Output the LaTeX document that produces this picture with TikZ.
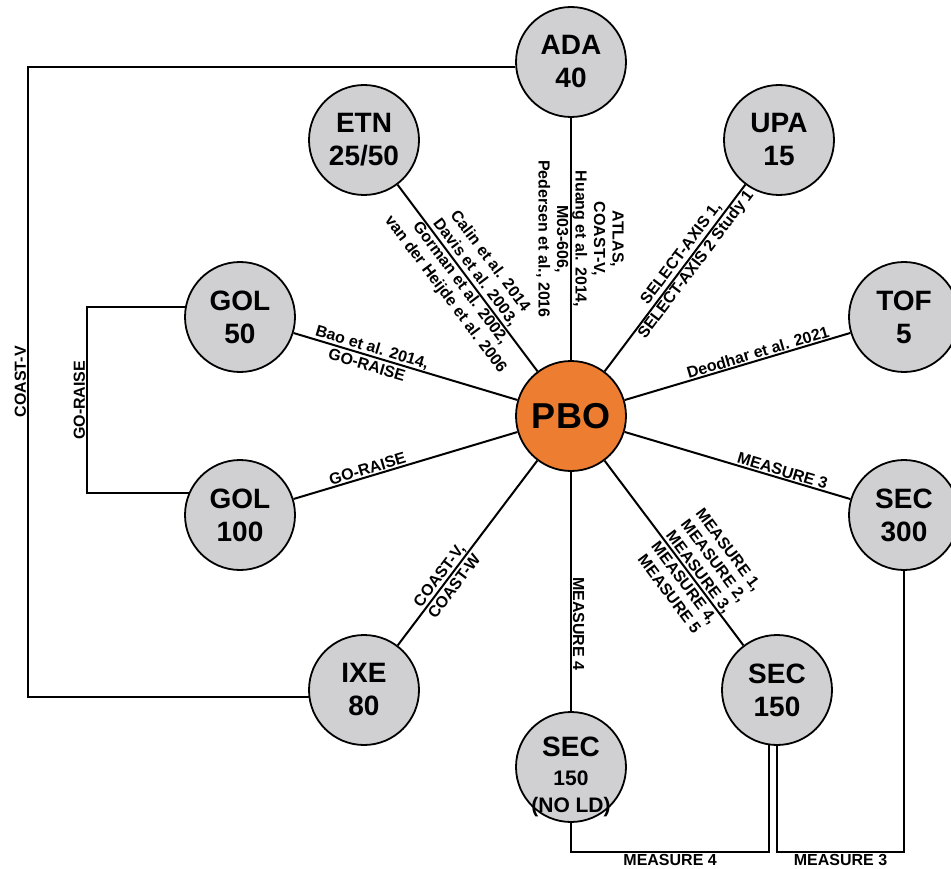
\documentclass[tikz,border=0pt]{standalone}
\usepackage{fontspec}
\setmainfont{Liberation Sans}
\definecolor{druggray}{HTML}{D0CFD1}
\definecolor{pboorange}{HTML}{ED7D31}

\tikzset{
  drug/.style={circle, draw, fill=druggray, line width=1.8pt, minimum size=110pt,
    inner sep=0pt, align=center, font=\bfseries\fontsize{28}{33}\selectfont},
  hub/.style={drug, fill=pboorange, font=\bfseries\fontsize{36}{40}\selectfont},
  link/.style={line width=2pt},
  lbl/.style={font=\bfseries\fontsize{16}{18.5}\selectfont, align=center, inner sep=1pt},
}

\begin{document}
\begin{tikzpicture}[x=1pt, y=-1pt]
  \useasboundingbox (0,0) rectangle (951,869);
  % drugs around PBO
  \node[hub]  (PBO)  at (571,416) {PBO};
  \node[drug] (ADA)  at (571,62)  {ADA\\40};
  \node[drug] (ETN)  at (364,140) {ETN\\25/50};
  \node[drug] (UPA)  at (779,140) {UPA\\15};
  \node[drug] (GOLa) at (240,317) {GOL\\50};
  \node[drug] (TOF)  at (904,317) {TOF\\5};
  \node[drug] (GOLb) at (240,515) {GOL\\100};
  \node[drug] (SECc) at (904,515) {SEC\\300};
  \node[drug] (IXE)  at (364,690) {IXE\\80};
  \node[drug] (SECb) at (777,690) {SEC\\150};
  \node[drug] (SECa) at (571,767) {\raisebox{11pt}[0pt][0pt]{\begin{tabular}[t]{@{}c@{}}SEC\\[-4pt]
    \fontsize{21}{27}\selectfont 150\\[-6pt]\fontsize{21}{27}\selectfont (NO LD)\end{tabular}}};
  \coordinate (cvx) at (28,0);
  \coordinate (grx) at (87,0);
  \coordinate (bot) at (0,852);

  % spokes
  \draw[link] (ETN) -- node[lbl, sloped, pos=.5] {Calin et al. 2014\\Davis et al. 2003,\\Gorman et al. 2002,\\van der Heijde et al. 2006} (PBO);
  \draw[link] (ADA) -- node[lbl, sloped, pos=.5, yshift=9pt] {ATLAS,\\COAST-V,\\Huang et al. 2014,\\M03-606,\\Pedersen et al., 2016} (PBO);
  \draw[link] (PBO) -- node[lbl, sloped, pos=.6] {SELECT-AXIS 1,\\SELECT-AXIS 2 Study 1} (UPA);
  \draw[link] (PBO) -- node[lbl, sloped, above, pos=.6] {Deodhar et al. 2021} (TOF);
  \draw[link] (GOLa) -- node[lbl, sloped, pos=.34] {Bao et al. 2014,\\GO-RAISE} (PBO);
  \draw[link] (GOLb) -- node[lbl, sloped, above, pos=.34] {GO-RAISE} (PBO);
  \draw[link] (PBO) -- node[lbl, sloped, above, pos=.69] {MEASURE 3} (SECc);
  \draw[link] (IXE) -- node[lbl, sloped, pos=.35] {COAST-V,\\COAST-W} (PBO);
  \draw[link] (PBO) -- node[lbl, sloped, above, pos=.635] {MEASURE 4} (SECa);
  \draw[link] (PBO) -- node[lbl, sloped, pos=.63, yshift=9pt] {MEASURE 1,\\MEASURE 2,\\MEASURE 3,\\MEASURE 4,\\MEASURE 5} (SECb);

  % outer brackets
  \draw[link] (IXE.187) -- (IXE.187 -| cvx) -- node[lbl, sloped, above] {COAST-V} (ADA.185 -| cvx) -- (ADA.185);
  \draw[link] (GOLb.157) -- (GOLb.157 -| grx) -- node[lbl, sloped, above] {GO-RAISE} (GOLa.170 -| grx) -- (GOLa.170);
  \draw[link] (SECa.south) -- (SECa.south |- bot) -- node[lbl, below] {MEASURE 4} (SECb.262 |- bot) -- (SECb.262);
  \draw[link] (SECb.south) -- (SECb.south |- bot) -- node[lbl, below] {MEASURE 3} (SECc.south |- bot) -- (SECc.south);
\end{tikzpicture}
\end{document}
